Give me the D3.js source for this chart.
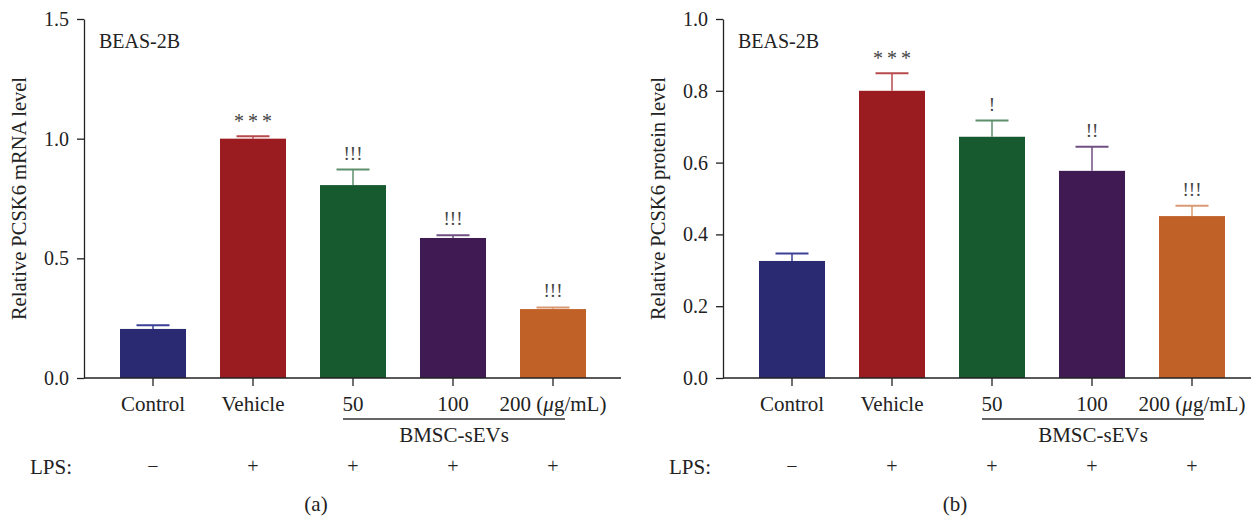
<!DOCTYPE html>
<html>
<head>
<meta charset="utf-8">
<script src="https://cdn.jsdelivr.net/npm/d3@7"></script>
<style>
  body { margin: 0; background: #fff; }
  svg, svg text { font-family: "Liberation Serif", "Times New Roman", Times, serif; fill: #222; }
</style>
</head>
<body>
<div id="chart"></div>
<script>
(function() {
    // Data
    const groups = ["Control", "Vehicle", "50", "100", "200"];
    const lps = ["\u2212", "+", "+", "+", "+"];
    const barColors = ["#2a2a72", "#9b1c20", "#185a2f", "#3f1a53", "#c06128"];
    const capColors = ["#3d4196", "#b84a4e", "#5e8f6c", "#6f4f82", "#d99a72"];

    const mrnaMean = [0.205, 1.0, 0.806, 0.585, 0.288];
    const mrnaErr = [0.015, 0.010, 0.065, 0.011, 0.007];
    const mrnaMarks = ["", "***", "!!!", "!!!", "!!!"];
    const mrnaTicks = [0, 0.5, 1.0, 1.5];

    const protMean = [0.326, 0.80, 0.672, 0.577, 0.451];
    const protErr = [0.021, 0.049, 0.045, 0.067, 0.029];
    const protMarks = ["", "***", "!", "!!", "!!!"];
    const protTicks = [0, 0.2, 0.4, 0.6, 0.8, 1.0];

    const width = 1251, height = 517;
    const serif = "'Liberation Serif', 'Times New Roman', serif";

    const svg = d3.select("#chart")
        .append("svg")
        .attr("width", width)
        .attr("height", height)
        .attr("font-family", serif);

    function drawPanel(ox, cfg) {
        const g = svg.append("g").attr("transform", `translate(${ox},0)`);
        const axisX = 84, axisEnd = cfg.axisEnd;
        const top = 19, bottom = 378;

        const x = d3.scaleBand()
            .domain(groups)
            .range([103, 603])
            .paddingInner(0.34)
            .paddingOuter(0.17);

        const y = d3.scaleLinear()
            .domain([0, cfg.ymax])
            .range([bottom, top]);

        // Bars
        g.selectAll(".bar")
            .data(groups)
            .enter()
            .append("rect")
            .attr("class", "bar")
            .attr("x", d => x(d))
            .attr("y", (d, i) => y(cfg.mean[i]))
            .attr("width", x.bandwidth())
            .attr("height", (d, i) => bottom - y(cfg.mean[i]))
            .attr("fill", (d, i) => barColors[i]);

        // Error bars (upper only)
        const capW = x.bandwidth() / 2;
        groups.forEach((d, i) => {
            const cx = x(d) + x.bandwidth() / 2;
            const yt = y(cfg.mean[i] + cfg.err[i]);
            g.append("line")
                .attr("x1", cx).attr("x2", cx)
                .attr("y1", y(cfg.mean[i])).attr("y2", yt)
                .attr("stroke", capColors[i]).attr("stroke-width", 1.5);
            g.append("line")
                .attr("x1", cx - capW / 2).attr("x2", cx + capW / 2)
                .attr("y1", yt).attr("y2", yt)
                .attr("stroke", capColors[i]).attr("stroke-width", 2);
            if (cfg.marks[i]) {
                const star = cfg.marks[i] === "***";
                g.append("text")
                    .attr("x", cx + (star ? 2 : 0))
                    .attr("y", yt - (star ? 8 : 10))
                    .attr("text-anchor", "middle")
                    .attr("font-family", star ? serif : "'Liberation Sans', Arial, sans-serif")
                    .style("font-size", star ? "20px" : "19px")
                    .style("letter-spacing", star ? "4px" : "0px")
                    .style("fill", "#444")
                    .text(cfg.marks[i]);
            }
        });

        // Y axis
        const yAxis = d3.axisLeft(y)
            .tickValues(cfg.ticks)
            .tickFormat(d3.format(".1f"))
            .tickSize(7)
            .tickSizeOuter(0)
            .tickPadding(8);
        const ya = g.append("g")
            .attr("transform", `translate(${axisX},0)`)
            .call(yAxis);
        ya.attr("font-family", serif);
        ya.selectAll("text").style("font-size", "20px").style("fill", "#222");
        ya.selectAll("line, path").attr("stroke", "#222").attr("stroke-width", 1.3);

        // X axis
        const xAxis = d3.axisBottom(x)
            .tickSize(8)
            .tickSizeOuter(0)
            .tickFormat("");
        const xa = g.append("g")
            .attr("transform", `translate(0,${bottom})`)
            .call(xAxis);
        xa.select(".domain").remove();
        xa.selectAll("line").attr("stroke", "#222").attr("stroke-width", 1.3);
        g.append("line")
            .attr("x1", axisX).attr("x2", axisEnd)
            .attr("y1", bottom).attr("y2", bottom)
            .attr("stroke", "#222").attr("stroke-width", 1.3);

        // Category labels
        groups.forEach((d, i) => {
            const cx = x(d) + x.bandwidth() / 2;
            const t = g.append("text")
                .attr("x", cx)
                .attr("y", 411)
                .attr("text-anchor", "middle")
                .style("font-size", "21px");
            if (d === "200") {
                t.append("tspan").text("200 (");
                t.append("tspan").style("font-style", "italic").text("\u03bc");
                t.append("tspan").text("g/mL)");
            } else {
                t.text(d);
            }
            g.append("text")
                .attr("x", cx)
                .attr("y", 473)
                .attr("text-anchor", "middle")
                .style("font-size", "20px")
                .style("fill", "#222")
                .text(lps[i]);
        });

        // BMSC-sEVs bracket
        const x50 = x("50") + x.bandwidth() / 2;
        const x200 = x("200") + x.bandwidth() / 2;
        g.append("line")
            .attr("x1", x50 - 10).attr("x2", x200 + 12)
            .attr("y1", 419).attr("y2", 419)
            .attr("stroke", "#333").attr("stroke-width", 1.3);
        g.append("text")
            .attr("x", (x50 + x200) / 2 + 1)
            .attr("y", 442)
            .attr("text-anchor", "middle")
            .style("font-size", "21px")
            .text("BMSC-sEVs");

        g.append("text")
            .attr("x", 30).attr("y", 474)
            .style("font-size", "21px")
            .text("LPS:");

        // Cell line label
        g.append("text")
            .attr("x", 99).attr("y", 48)
            .style("font-size", "20px")
            .text("BEAS-2B");

        // Y title
        g.append("text")
            .attr("transform", `translate(26,${(top + bottom) / 2}) rotate(-90)`)
            .attr("text-anchor", "middle")
            .style("font-size", "20.5px")
            .text(cfg.ylabel);

        // Panel letter
        g.append("text")
            .attr("x", 316).attr("y", 511)
            .attr("text-anchor", "middle")
            .style("font-size", "21px")
            .text(cfg.letter);
    }

    drawPanel(0, {
        ymax: 1.5, ticks: mrnaTicks, mean: mrnaMean, err: mrnaErr, marks: mrnaMarks,
        ylabel: "Relative PCSK6 mRNA level", letter: "(a)", axisEnd: 621
    });
    drawPanel(639, {
        ymax: 1.0, ticks: protTicks, mean: protMean, err: protErr, marks: protMarks,
        ylabel: "Relative PCSK6 protein level", letter: "(b)", axisEnd: 640
    });
})();
</script>
</body>
</html>
